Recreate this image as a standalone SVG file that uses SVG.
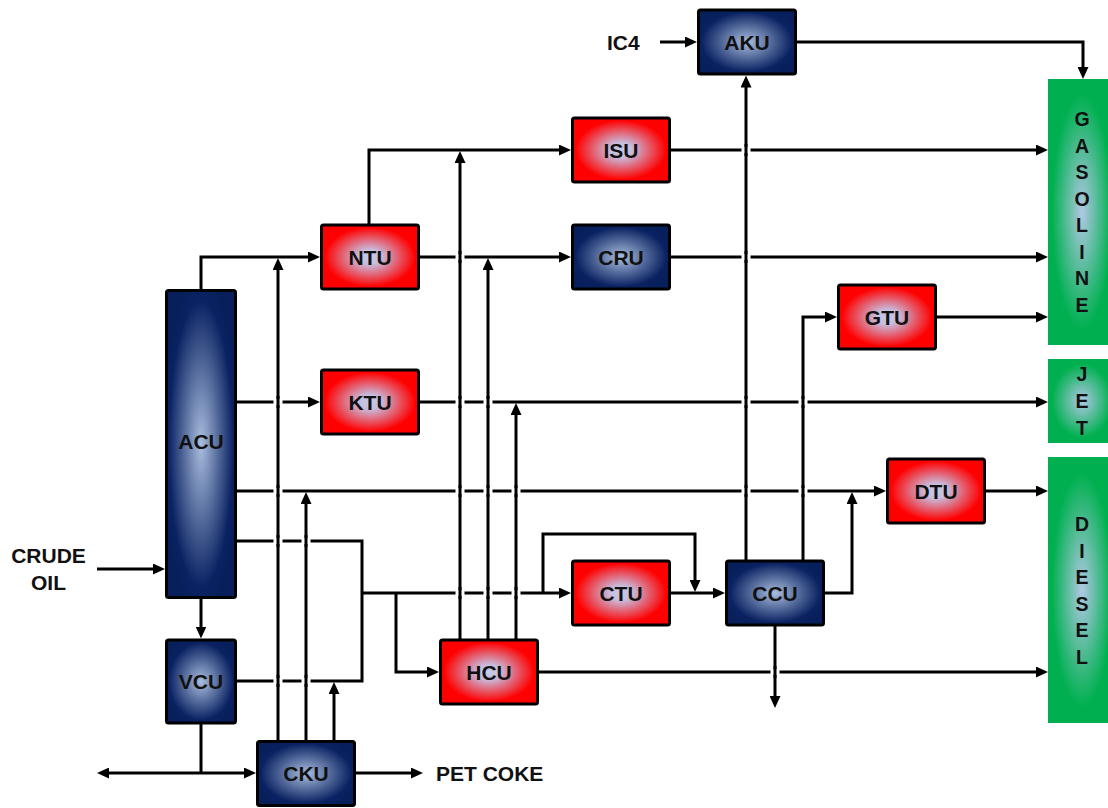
<svg xmlns="http://www.w3.org/2000/svg" xmlns:xlink="http://www.w3.org/1999/xlink" width="1108" height="808" viewBox="0 0 1108 808">
<defs>
<radialGradient id="gRed" cx="0.5" cy="0.5" r="0.55">
<stop offset="0" stop-color="#c4cae8"/>
<stop offset="0.2" stop-color="#c8bedf"/>
<stop offset="0.85" stop-color="#ff0000"/>
<stop offset="1" stop-color="#ff0000"/>
</radialGradient>
<radialGradient id="gBlue" cx="0.5" cy="0.5" r="0.55">
<stop offset="0" stop-color="#a9bddd"/>
<stop offset="0.85" stop-color="#0a2262"/>
<stop offset="1" stop-color="#07205c"/>
</radialGradient>
<radialGradient id="gGreen" cx="0.5" cy="0.5" r="0.55">
<stop offset="0" stop-color="#b0c8e4"/>
<stop offset="0.8" stop-color="#00b050"/>
<stop offset="1" stop-color="#00b050"/>
</radialGradient>
<marker id="arr" markerUnits="userSpaceOnUse" markerWidth="12" markerHeight="11" refX="6" refY="5.5" orient="auto">
<path d="M0,0 L12,5.5 L0,11 Z" fill="#000"/>
</marker>
<g id="hop">
<rect x="-4.5" y="-3" width="9" height="6" fill="#fff"/>
<line x1="0" y1="-6" x2="0" y2="6" stroke="#000" stroke-width="3"/>
</g>
</defs>
<style>
.red{fill:url(#gRed);stroke:#000;stroke-width:3}
.blue{fill:url(#gBlue);stroke:#000;stroke-width:3}
.green{fill:url(#gGreen)}
.lbl{font-family:"Liberation Sans",Arial,sans-serif;font-weight:bold;font-size:21px;fill:#111;text-anchor:middle}
.side{font-family:"Liberation Sans",Arial,sans-serif;font-weight:bold;font-size:21px;fill:#111}
.vert{font-family:"Liberation Sans",Arial,sans-serif;font-weight:bold;font-size:19.5px;fill:#111;text-anchor:middle}
.c{fill:none;stroke:#000;stroke-width:3;stroke-linejoin:miter}
.a{marker-end:url(#arr)}
</style>
<rect width="1108" height="808" fill="#fff"/>

<g id="connectors">
<path class="c a" d="M660,42 H691"/>
<path class="c a" d="M797,42 H1083 V73"/>
<path class="c a" d="M746,561 V81.5"/>
<path class="c a" d="M201,290 V257 H314"/>
<path class="c a" d="M369,225 V150 H565"/>
<path class="c a" d="M670,150 H1042"/>
<path class="c a" d="M419,257 H565"/>
<path class="c a" d="M670,257 H1042"/>
<path class="c a" d="M803,561 V317 H831"/>
<path class="c a" d="M936,317 H1042"/>
<path class="c a" d="M236,402 H314"/>
<path class="c a" d="M419,402 H1042"/>
<path class="c a" d="M236,491 H880"/>
<path class="c a" d="M985,491 H1042"/>
<path class="c a" d="M824,593 H852 V498"/>
<path class="c" d="M236,541 H362 V681 H236"/>
<path class="c a" d="M362,593 H565"/>
<path class="c a" d="M396,593 V672 H433"/>
<path class="c a" d="M543,593 V534 H695 V586"/>
<path class="c a" d="M670,593 H719"/>
<path class="c a" d="M460,640 V157"/>
<path class="c a" d="M488,640 V264"/>
<path class="c a" d="M516,640 V409"/>
<path class="c a" d="M538,672 H1042"/>
<path class="c a" d="M775,625 V702"/>
<path class="c a" d="M201,597 V632.5"/>
<path class="c a" d="M97,569 H159"/>
<path class="c" d="M201,723 V773"/>
<path class="c a" d="M201,773 H103"/>
<path class="c a" d="M201,773 H250"/>
<path class="c a" d="M355,773 H417"/>
<path class="c a" d="M278,742 V264"/>
<path class="c a" d="M306,742 V498"/>
<path class="c a" d="M334,742 V688"/>
<use href="#hop" x="746" y="150"/>
<use href="#hop" x="460" y="257"/>
<use href="#hop" x="746" y="257"/>
<use href="#hop" x="278" y="402"/>
<use href="#hop" x="460" y="402"/>
<use href="#hop" x="488" y="402"/>
<use href="#hop" x="746" y="402"/>
<use href="#hop" x="803" y="402"/>
<use href="#hop" x="278" y="491"/>
<use href="#hop" x="460" y="491"/>
<use href="#hop" x="488" y="491"/>
<use href="#hop" x="516" y="491"/>
<use href="#hop" x="746" y="491"/>
<use href="#hop" x="803" y="491"/>
<use href="#hop" x="278" y="541"/>
<use href="#hop" x="306" y="541"/>
<use href="#hop" x="460" y="593"/>
<use href="#hop" x="488" y="593"/>
<use href="#hop" x="516" y="593"/>
<use href="#hop" x="278" y="681"/>
<use href="#hop" x="306" y="681"/>
<use href="#hop" x="775" y="672"/>
</g>

<g id="AKU"><rect class="blue" x="698.5" y="10" width="97" height="64" rx="2"/><text class="lbl" x="747" y="49.5">AKU</text></g>
<g id="ISU"><rect class="red" x="572.5" y="118" width="97" height="64" rx="2"/><text class="lbl" x="621" y="157.5">ISU</text></g>
<g id="NTU"><rect class="red" x="321.5" y="225" width="97" height="64" rx="2"/><text class="lbl" x="370" y="264.5">NTU</text></g>
<g id="CRU"><rect class="blue" x="572.5" y="225" width="97" height="64" rx="2"/><text class="lbl" x="621" y="264.5">CRU</text></g>
<g id="GTU"><rect class="red" x="838.5" y="285" width="97" height="64" rx="2"/><text class="lbl" x="887" y="324.5">GTU</text></g>
<g id="KTU"><rect class="red" x="321.5" y="370" width="97" height="64" rx="2"/><text class="lbl" x="370" y="409.5">KTU</text></g>
<g id="DTU"><rect class="red" x="887.5" y="459" width="97" height="64" rx="2"/><text class="lbl" x="936" y="498.5">DTU</text></g>
<g id="CTU"><rect class="red" x="572.5" y="561" width="97" height="64" rx="2"/><text class="lbl" x="621" y="600.5">CTU</text></g>
<g id="CCU"><rect class="blue" x="726.5" y="561" width="97" height="64" rx="2"/><text class="lbl" x="775" y="600.5">CCU</text></g>
<g id="HCU"><rect class="red" x="440.5" y="640" width="97" height="64" rx="2"/><text class="lbl" x="489" y="679.5">HCU</text></g>
<g id="ACU"><rect class="blue" x="166.5" y="290.5" width="69" height="307" rx="2"/><text class="lbl" x="201" y="448.5">ACU</text></g>
<g id="VCU"><rect class="blue" x="166.5" y="640" width="69" height="83" rx="2"/><text class="lbl" x="201" y="689">VCU</text></g>
<g id="CKU"><rect class="blue" x="257.5" y="741.5" width="97" height="64" rx="2"/><text class="lbl" x="306" y="781">CKU</text></g>

<g id="GASOLINE"><rect class="green" x="1048" y="79" width="68" height="266"/>
<text class="vert"><tspan x="1082" y="126">G</tspan><tspan x="1082" y="152.5">A</tspan><tspan x="1082" y="179">S</tspan><tspan x="1082" y="205.5">O</tspan><tspan x="1082" y="232">L</tspan><tspan x="1082" y="258.5">I</tspan><tspan x="1082" y="285">N</tspan><tspan x="1082" y="311.5">E</tspan></text></g>
<g id="JET"><rect class="green" x="1048" y="359" width="68" height="84"/>
<text class="vert"><tspan x="1082" y="381">J</tspan><tspan x="1082" y="408">E</tspan><tspan x="1082" y="434.5">T</tspan></text></g>
<g id="DIESEL"><rect class="green" x="1048" y="457" width="68" height="266"/>
<text class="vert"><tspan x="1082" y="531">D</tspan><tspan x="1082" y="557.5">I</tspan><tspan x="1082" y="584">E</tspan><tspan x="1082" y="610.5">S</tspan><tspan x="1082" y="637">E</tspan><tspan x="1082" y="663.5">L</tspan></text></g>

<g id="labels">
<text class="side" x="607" y="49.5">IC4</text>
<text class="lbl" x="48.5" y="562.5">CRUDE</text>
<text class="lbl" x="48.5" y="589.5">OIL</text>
<text class="side" x="436" y="780.5">PET COKE</text>
</g>
</svg>
